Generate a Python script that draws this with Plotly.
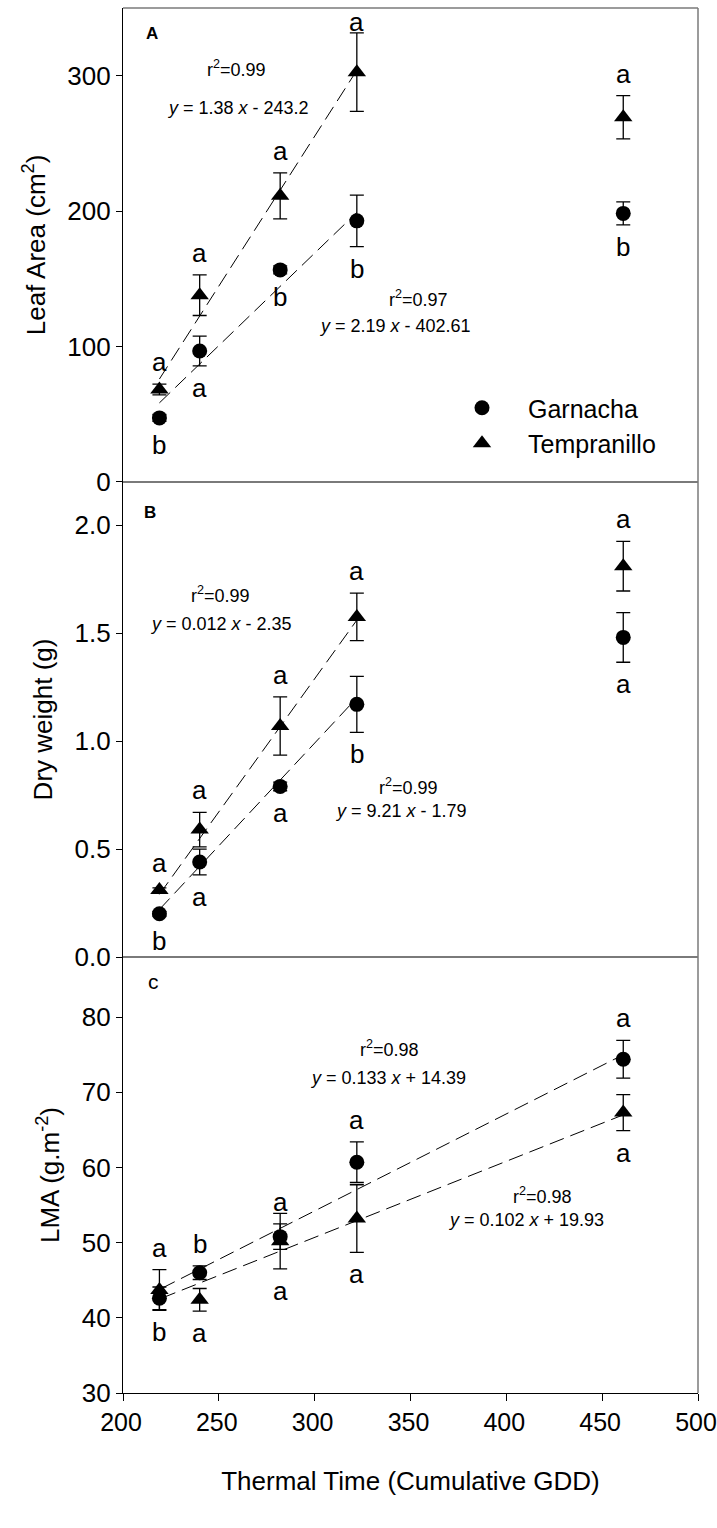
import plotly.graph_objects as go

# ---------------- data ----------------
gdd = [219, 240, 282, 322, 461]

# Panel A: leaf area (cm2)
la_garnacha = [47.3, 96.7, 156.6, 192.8, 198.3]
la_garnacha_err = [2.5, 11.0, 3.0, 19.0, 8.5]
la_tempranillo = [68.3, 137.9, 211.3, 302.6, 269.3]
la_tempranillo_err = [4.0, 15.0, 17.0, 29.0, 16.0]
la_garnacha_letters = ["b", "a", "b", "b", "b"]
la_tempranillo_letters = ["a", "a", "a", "a", "a"]

# Panel B: dry weight (g)
dw_garnacha = [0.20, 0.44, 0.79, 1.17, 1.48]
dw_garnacha_err = [0.01, 0.06, 0.02, 0.13, 0.115]
dw_tempranillo = [0.31, 0.59, 1.07, 1.575, 1.81]
dw_tempranillo_err = [0.01, 0.08, 0.135, 0.11, 0.115]
dw_garnacha_letters = ["b", "a", "a", "b", "a"]
dw_tempranillo_letters = ["a", "a", "a", "a", "a"]

# Panel C: LMA (g.m-2)
lma_garnacha = [42.6, 46.0, 50.8, 60.7, 74.4]
lma_garnacha_err = [1.5, 0.9, 1.7, 2.7, 2.5]
lma_tempranillo = [43.7, 42.4, 50.2, 53.2, 67.3]
lma_tempranillo_err = [2.7, 1.5, 3.7, 4.5, 2.4]
lma_garnacha_letters = ["b", "b", "a", "a", "a"]
lma_tempranillo_letters = ["a", "a", "a", "a", "a"]

# regression lines (end points)
la_trend_x = [219, 322]
la_trend_garnacha = [58.4, 199.0]
la_trend_tempranillo = [76.0, 304.0]
dw_trend_x = [219, 322]
dw_trend_garnacha = [0.22, 1.20]
dw_trend_tempranillo = [0.29, 1.56]
lma_trend_x = [220, 461]
lma_trend_garnacha = [43.9, 75.0]
lma_trend_tempranillo = [42.6, 67.0]

x_ticks = [200, 250, 300, 350, 400, 450, 500]
la_ticks = [0, 100, 200, 300]
dw_ticks = [0.0, 0.5, 1.0, 1.5, 2.0]
lma_ticks = [30, 40, 50, 60, 70, 80]

# ---------------- layout geometry ----------------
W, H = 717, 1528
ML, MR, MT, MB = 123, 19, 8, 135
PLOT_W = W - ML - MR
PLOT_H = H - MT - MB
dom_a = [0.6578, 1.0]
dom_b = [0.3148, 0.6578]
dom_c = [0.0, 0.3148]
rng_a = [0, 350]
rng_b = [0, 2.2]
rng_c = [30, 88]

FONT = "Liberation Sans, Arial, sans-serif"
BLACK = "#000000"
GRAY = "#7a7a7a"

fig = go.Figure()

panels = [
    ("x2", "y2", dom_a, rng_a, la_garnacha, la_garnacha_err, la_tempranillo, la_tempranillo_err,
     la_garnacha_letters, la_tempranillo_letters,
     ["below"] * 5, ["above"] * 5, la_trend_x, la_trend_garnacha, la_trend_tempranillo),
    ("x3", "y3", dom_b, rng_b, dw_garnacha, dw_garnacha_err, dw_tempranillo, dw_tempranillo_err,
     dw_garnacha_letters, dw_tempranillo_letters,
     ["below"] * 5, ["above"] * 5, dw_trend_x, dw_trend_garnacha, dw_trend_tempranillo),
    ("x", "y", dom_c, rng_c, lma_garnacha, lma_garnacha_err, lma_tempranillo, lma_tempranillo_err,
     lma_garnacha_letters, lma_tempranillo_letters,
     ["below", "above", "above", "above", "above"],
     ["above", "below", "below", "below", "below"],
     lma_trend_x, lma_trend_garnacha, lma_trend_tempranillo),
]

annotations = []
first = True
for (xa, ya, dom, rng, g, ge, t, te, gl, tl, gpos, tpos, tx, tg, tt) in panels:
    ppu = (dom[1] - dom[0]) * PLOT_H / (rng[1] - rng[0])  # pixels per unit
    for ty in (tg, tt):
        fig.add_trace(go.Scatter(x=tx, y=ty, mode="lines", xaxis=xa, yaxis=ya,
                                 line=dict(color=BLACK, width=1, dash="15px,7px"),
                                 showlegend=False, hoverinfo="skip"))
    fig.add_trace(go.Scatter(
        x=gdd, y=g, mode="markers", xaxis=xa, yaxis=ya, name="Garnacha",
        marker=dict(symbol="circle", size=15, color=BLACK),
        error_y=dict(type="data", array=ge, visible=True, color=BLACK, thickness=1.3, width=7),
        showlegend=first, legendrank=1))
    fig.add_trace(go.Scatter(
        x=gdd, y=t, mode="markers", xaxis=xa, yaxis=ya, name="Tempranillo",
        marker=dict(symbol="triangle-up", size=16, color=BLACK),
        error_y=dict(type="data", array=te, visible=True, color=BLACK, thickness=1.3, width=7),
        showlegend=first, legendrank=2))
    first = False
    for vals, errs, letters, pos in ((g, ge, gl, gpos), (t, te, tl, tpos)):
        for xv, yv, ev, lt, p in zip(gdd, vals, errs, letters, pos):
            reach = max(ev, 5.0 / ppu)
            if p == "above":
                yl = yv + reach + 22.0 / ppu
                yl = min(yl, rng[1] - 14.0 / ppu)
            else:
                yl = yv - reach - 22.0 / ppu
            annotations.append(dict(x=xv, y=yl, xref=xa, yref=ya, text=lt, showarrow=False,
                                    font=dict(family=FONT, size=26, color=BLACK)))


def note(x, y, xa, ya, text, size=18):
    annotations.append(dict(x=x, y=y, xref=xa, yref=ya, text=text, showarrow=False,
                            font=dict(family=FONT, size=size, color=BLACK)))


note(259, 305, "x2", "y2", "r<sup>2</sup>=0.99")
note(260, 276, "x2", "y2", "<i>y</i> = 1.38 <i>x</i> - 243.2")
note(354, 135.6, "x2", "y2", "r<sup>2</sup>=0.97")
note(342, 115, "x2", "y2", "<i>y</i> = 2.19 <i>x</i> - 402.61")
note(251, 1.68, "x3", "y3", "r<sup>2</sup>=0.99")
note(251, 1.54, "x3", "y3", "<i>y</i> = 0.012 <i>x</i> - 2.35")
note(349, 0.79, "x3", "y3", "r<sup>2</sup>=0.99")
note(345, 0.675, "x3", "y3", "<i>y</i> = 9.21 <i>x</i> - 1.79")
note(339, 75.8, "x", "y", "r<sup>2</sup>=0.98")
note(338, 71.9, "x", "y", "<i>y</i> = 0.133 <i>x</i> + 14.39")
note(419, 56.3, "x", "y", "r<sup>2</sup>=0.98")
note(410, 53.0, "x", "y", "<i>y</i> = 0.102 <i>x</i> + 19.93")
note(215, 331, "x2", "y2", "<b>A</b>", 17)
note(214, 2.06, "x3", "y3", "<b>B</b>", 17)
note(216, 84.7, "x", "y", "c", 21)

tickfont = dict(family=FONT, size=26, color=BLACK)
xtickfont = dict(family=FONT, size=25, color=BLACK)
titlefont = dict(family=FONT, size=26, color=BLACK)


def yax(dom, rng, ticks, title, fmt=None):
    d = dict(domain=dom, range=rng, tickvals=ticks, ticks="outside", ticklen=6, tickwidth=1,
             tickcolor=BLACK, showline=True, linecolor=BLACK, linewidth=1.3, mirror=False,
             showgrid=False, zeroline=False, tickfont=tickfont, automargin=False,
             title=dict(text=title, font=titlefont, standoff=14))
    if fmt:
        d["tickformat"] = fmt
    return d


fig.update_layout(
    width=W, height=H,
    margin=dict(l=ML, r=MR, t=MT, b=MB, autoexpand=False),
    paper_bgcolor="white", plot_bgcolor="white",
    font=dict(family=FONT, color=BLACK),
    showlegend=True,
    legend=dict(x=(436 - ML) / PLOT_W, y=(H - MB - 385) / PLOT_H,
                xanchor="left", yanchor="top", bgcolor="rgba(0,0,0,0)", itemwidth=82,
                font=dict(family=FONT, size=25, color=BLACK), tracegroupgap=0),
    xaxis=dict(domain=[0, 1], range=[200, 500], tickvals=x_ticks, ticks="outside", ticklen=7,
               tickcolor=BLACK, showline=True, linecolor=BLACK, linewidth=1.3, showgrid=False,
               zeroline=False, tickfont=xtickfont, anchor="y", ticklabeloverflow="allow",
               ticklabelshift=-2, automargin=False,
               title=dict(text="Thermal Time (Cumulative GDD)", font=titlefont, standoff=36)),
    xaxis2=dict(domain=[0, 1], range=[200, 500], matches="x", showticklabels=False, ticks="",
                showline=False, showgrid=False, zeroline=False, anchor="y2"),
    xaxis3=dict(domain=[0, 1], range=[200, 500], matches="x", showticklabels=False, ticks="",
                showline=False, showgrid=False, zeroline=False, anchor="y3"),
    yaxis=yax(dom_c, rng_c, lma_ticks, "LMA (g.m<sup>-2</sup>)"),
    yaxis2=yax(dom_a, rng_a, la_ticks, "Leaf Area (cm<sup>2</sup>)"),
    yaxis3=yax(dom_b, rng_b, dw_ticks, "Dry weight (g)", ".1f"),
    annotations=annotations,
    shapes=[
        dict(type="line", xref="paper", yref="paper", x0=0, x1=1, y0=1, y1=1,
             line=dict(color=GRAY, width=1.5)),
        dict(type="line", xref="paper", yref="paper", x0=0, x1=1, y0=dom_b[1], y1=dom_b[1],
             line=dict(color=GRAY, width=2)),
        dict(type="line", xref="paper", yref="paper", x0=0, x1=1, y0=dom_c[1], y1=dom_c[1],
             line=dict(color=GRAY, width=2)),
        dict(type="line", xref="paper", yref="paper", x0=1, x1=1, y0=0, y1=1,
             line=dict(color=GRAY, width=1.5)),
    ],
)

fig.write_html("out.html")
